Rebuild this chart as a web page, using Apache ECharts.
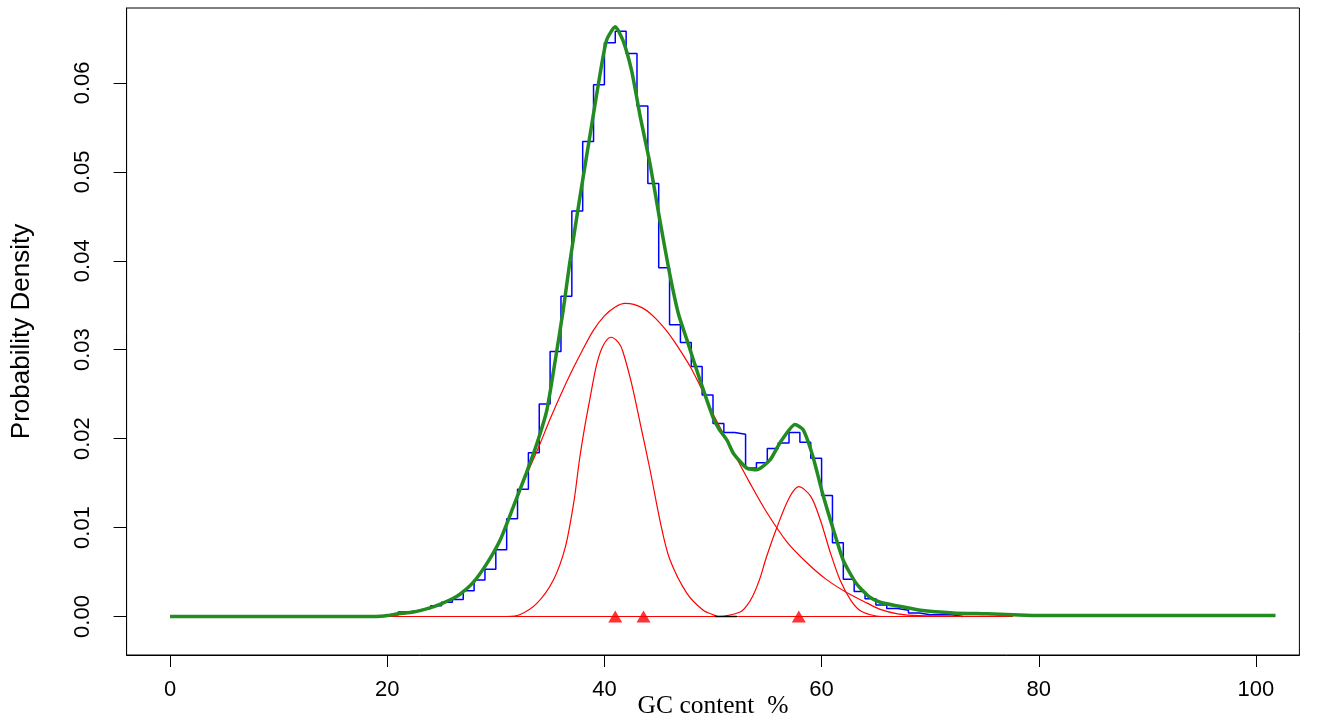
<!DOCTYPE html>
<html>
<head>
<meta charset="utf-8">
<script src="https://cdn.jsdelivr.net/npm/echarts@6/dist/echarts.min.js"></script>
<style>
html,body{margin:0;padding:0;background:#fff;}
#chart{width:1329px;height:720px;}
</style>
</head>
<body>
<div id="chart"></div>
<script>
// ---- data ----
const xTicks = [0, 20, 40, 60, 80, 100];
const yTicks = [0, 0.01, 0.02, 0.03, 0.04, 0.05, 0.06];

// histogram: left bin edges (GC %) and densities
const binLeft = [20,21,22,23,24,25,26,27,28,29,30,31,32,33,34,35,36,37,38,39,40,41,42,43,44,45,46,47,48,49,50,51,52,53,54,55,56,57,58,59,60,61,62,63,64,65,66,67,68,69,70,71,72];
const binDensity = [0.0002,0.0005,0.0007,0.0009,0.0012,0.0016,0.0019,0.0029,0.0041,0.0053,0.0075,0.0110,0.0143,0.0184,0.0239,0.0298,0.0360,0.0456,0.0534,0.0598,0.0645,0.0658,0.0633,0.0574,0.0487,0.0392,0.0328,0.0308,0.0281,0.0249,0.0217,0.0207,0.0205,0.0167,0.0173,0.0189,0.0195,0.0207,0.0196,0.0178,0.0136,0.0083,0.0042,0.0028,0.0020,0.0013,0.0009,0.0007,0.0004,0.0002,0.0002,0.0002,0];

// fitted mixture density (green)
const mixX = [0,19,20,21,22.4,24,24.9,26,26.7,27.9,29.2,30.4,31.6,32.8,33.8,34.7,35.5,36.2,36.8,37.75,38.7,39.6,40.2,41.0,41.7,42.5,43.3,44.2,45.1,46.0,46.8,47.6,48.8,50.0,50.6,51.3,51.9,53.1,54.0,55.25,56.2,57.55,58.3,59.2,60.1,61.1,62.0,63.2,64.4,65.4,66.9,69.1,72.1,75.2,77.6,80,101.8];
const mixY = [0,0,0.0001,0.0003,0.0005,0.0010,0.0014,0.0020,0.0025,0.0038,0.0060,0.0086,0.0123,0.0161,0.0195,0.0232,0.0290,0.0344,0.0397,0.0472,0.0543,0.0610,0.0648,0.0663,0.0648,0.0614,0.0562,0.0509,0.0446,0.0386,0.0341,0.0311,0.0266,0.0224,0.0210,0.0198,0.0183,0.0167,0.0165,0.0176,0.0196,0.0216,0.0210,0.0180,0.0138,0.0097,0.0063,0.0037,0.0022,0.0016,0.0012,0.0007,0.0004,0.0003,0.0002,0.0001,0.0001];

// component 1 (narrow, red)
const c1X = [20,31,32.2,33.8,35.3,36.4,37.2,37.7,38.2,38.67,39.3,39.9,40.6,41.3,41.7,42.5,43.3,44.2,45.2,46.0,47.6,49.1,50.0,50.5,77.6];
const c1Y = [0,0,0.0002,0.0015,0.0041,0.0078,0.0130,0.0176,0.0214,0.0245,0.0284,0.0305,0.0314,0.0308,0.0298,0.0262,0.0217,0.0165,0.0103,0.0065,0.0026,0.0007,0.0002,0,0];

// component 2 (broad, red)
const c2X = [20,22.4,24.9,26.7,27.9,29.2,30.4,31.6,32.8,34.0,35.0,36.0,37.0,38.0,39.0,40.0,41.0,41.9,42.7,43.5,44.2,44.8,45.6,46.4,47.2,47.9,49.1,50.0,51.9,53.4,54.9,56.8,58.6,60.4,62.3,64.2,65.4,67,69,77.6];
const c2Y = [0.0001,0.0005,0.0014,0.0025,0.0038,0.0060,0.0086,0.0122,0.0158,0.0192,0.0222,0.0250,0.0276,0.0300,0.0322,0.0338,0.0348,0.0352,0.0351,0.0347,0.0341,0.0334,0.0323,0.0310,0.0295,0.0281,0.0252,0.0228,0.0184,0.0150,0.0118,0.0084,0.0061,0.0042,0.0027,0.0015,0.0008,0.0003,0.0001,0];

// component 3 (high-GC, red)
const c3X = [20,50.5,52.5,53.1,53.7,54.3,54.9,55.85,57.0,57.9,59.0,59.9,60.8,61.7,62.65,63.5,64.5,65.5,77.6];
const c3Y = [0,0,0.0005,0.0012,0.0024,0.0042,0.0066,0.0099,0.0133,0.0146,0.0135,0.0108,0.0072,0.0041,0.0019,0.0007,0.0002,0,0];

// component means (red triangles)
const meansX = [41.0, 43.6, 57.9];

// short black baseline segment seen near GC 50-52
const blackSegX = [50.2, 52.2];

// ---- build ----
const zip = (xs, ys) => xs.map((x, i) => [x, ys[i]]);
const histPts = zip(binLeft, binDensity);
histPts.push([binLeft[binLeft.length - 1] + 1, 0]);

const chart = echarts.init(document.getElementById('chart'), null, {renderer: 'canvas'});
const redLine = (name, pts) => ({
  name, type: 'line', data: pts, showSymbol: false, smooth: 0.3,
  lineStyle: {color: '#ff0000', width: 1.2}, z: 3, silent: true, animation: false
});

chart.setOption({
  animation: false,
  backgroundColor: '#ffffff',
  grid: {left: 126.6, right: 29.6, top: 8, bottom: 65, show: true,
         outerBoundsMode: 'none', containLabel: false,
         borderColor: '#000', borderWidth: 1, backgroundColor: 'transparent'},
  xAxis: {
    type: 'value', min: -4, max: 104,
    name: 'GC content  %', nameLocation: 'middle', nameGap: 38, nameMoveOverlap: false,
    nameTextStyle: {fontFamily: 'Liberation Serif', fontSize: 25.5, color: '#000'},
    axisLine: {show: true, onZero: false, lineStyle: {color: '#000', width: 1}},
    axisTick: {show: true, length: 12, customValues: xTicks, lineStyle: {color: '#000'}},
    axisLabel: {customValues: xTicks, margin: 24, fontFamily: 'Liberation Sans', fontSize: 22, color: '#000'},
    splitLine: {show: false}
  },
  yAxis: {
    type: 'value', min: -0.00433, max: 0.06842,
    name: 'Probability Density', nameLocation: 'middle', nameGap: 92, nameRotate: 90, nameMoveOverlap: false,
    nameTextStyle: {fontFamily: 'Liberation Sans', fontSize: 26, color: '#000'},
    axisLine: {show: true, onZero: false, lineStyle: {color: '#000', width: 1}},
    axisTick: {show: true, length: 13, customValues: yTicks, lineStyle: {color: '#000'}},
    axisLabel: {customValues: yTicks, rotate: 90, margin: 33, fontFamily: 'Liberation Sans', fontSize: 22, color: '#000',
                formatter: v => v.toFixed(2)},
    splitLine: {show: false}
  },
  series: [
    {name: 'hist', type: 'line', step: 'end', data: histPts, showSymbol: false,
     lineStyle: {color: '#0000ff', width: 1.5}, z: 2, animation: false},
    redLine('c1', zip(c1X, c1Y)),
    redLine('c2', zip(c2X, c2Y)),
    redLine('c3', zip(c3X, c3Y)),
    {name: 'mix', type: 'line', data: zip(mixX, mixY), showSymbol: false, smooth: 0.2,
     lineStyle: {color: '#228b22', width: 3.5}, z: 4, animation: false},
    {name: 'seg', type: 'line', data: blackSegX.map(x => [x, 0]), showSymbol: false,
     lineStyle: {color: '#000', width: 1.5}, z: 5, animation: false},
    {name: 'means', type: 'scatter', data: meansX.map(x => [x, 0]), symbol: 'triangle',
     symbolSize: [14, 12], itemStyle: {color: '#ff0000'}, z: 6, animation: false}
  ]
});
</script>
</body>
</html>
